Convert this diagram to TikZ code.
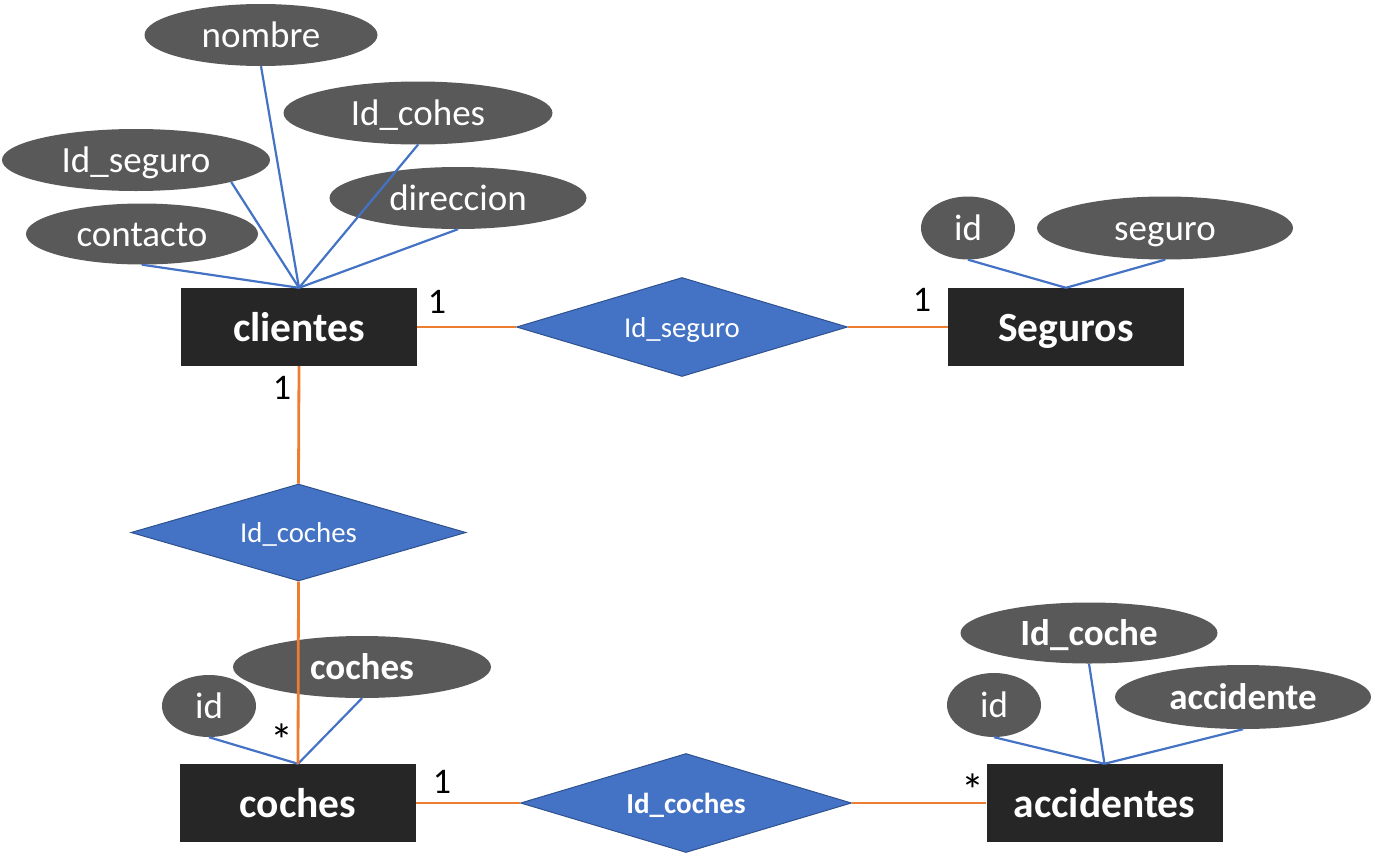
\documentclass[tikz,border=0pt]{standalone}
\usepackage{fontspec}
\setmainfont{Carlito}
\usetikzlibrary{shapes.geometric}
\definecolor{entfill}{HTML}{262626}
\definecolor{attfill}{HTML}{595959}
\definecolor{relfill}{HTML}{4472C4}
\definecolor{reldraw}{HTML}{2F528F}
\definecolor{attline}{HTML}{4472C4}
\definecolor{relline}{HTML}{ED7D31}
\tikzset{
  entity/.style={rectangle, fill=entfill, text=white, font=\fontsize{41.5}{48}\selectfont\bfseries,
    minimum width=236pt, minimum height=78pt, inner sep=0pt, text height=36pt, text depth=8pt},
  attr/.style={ellipse, fill=attfill, text=white, font=\fontsize{37}{42}\selectfont,
    inner sep=0pt, text height=30pt, text depth=6pt},
  battr/.style={attr, font=\fontsize{37}{42}\selectfont\bfseries},
  rel/.style={diamond, aspect=3.3, fill=relfill, draw=reldraw, line width=1pt, text=white,
    font=\fontsize{28.8}{33}\selectfont, inner sep=0pt, text height=26pt, text depth=6pt},
  brel/.style={rel, font=\fontsize{29}{33}\selectfont\bfseries},
  aline/.style={draw=attline, line width=2.2pt},
  rline/.style={draw=relline, line width=2.8pt},
  card/.style={text=black, font=\fontsize{36}{40}\selectfont, inner sep=0pt},
  star/.style={card, font=\fontsize{46}{50}\selectfont},
}
\begin{document}
\begin{tikzpicture}[x=1pt,y=-1pt]
\useasboundingbox (0,0) rectangle (1374,854);
% entities
\node[entity] (clientes) at (299,327) {clientes};
\node[entity] (seguros) at (1066,327) {Seguros};
\node[entity] (coches) at (298,803) {coches};
\node[entity] (accid) at (1104.5,803) {accidentes};
% relationships
\node[rel, minimum width=331pt, minimum height=99pt] (rseg) at (682,327) {Id\_seguro};
\node[rel, minimum width=335pt, minimum height=97pt] (rcoc) at (298.5,532.5) {Id\_coches};
\node[brel, minimum width=331pt, minimum height=99pt] (racc) at (686,803) {Id\_coches};
% attributes
\node[attr, minimum width=233pt, minimum height=62pt] (nombre) at (261,35) {nombre};
\node[attr, minimum width=269pt, minimum height=63pt] (idcohes) at (418,113) {Id\_cohes};
\node[attr, minimum width=268pt, minimum height=62pt] (idseg) at (136,160) {Id\_seguro};
\node[attr, minimum width=257pt, minimum height=62pt] (direc) at (458,198) {direccion};
\node[attr, minimum width=232pt, minimum height=61pt] (contacto) at (142,234) {contacto};
\node[attr, minimum width=94pt, minimum height=63pt] (sid) at (968,228) {id};
\node[attr, minimum width=256pt, minimum height=63pt] (seguro) at (1165,228) {seguro};
\node[battr, minimum width=258pt, minimum height=62pt] (cattr) at (362,667) {coches};
\node[attr, minimum width=94pt, minimum height=62pt] (cid) at (209,706) {id};
\node[battr, minimum width=257pt, minimum height=61pt] (idcoche) at (1089,633) {Id\_coche};
\node[attr, minimum width=94pt, minimum height=64pt] (aid) at (994,705) {id};
\node[battr, minimum width=256pt, minimum height=64pt] (accattr) at (1243,697) {accidente};
% attribute connectors
\path[aline] (nombre.south) -- (clientes.north);
\path[aline] (idcohes.south) -- (clientes.north);
\path[aline] (idseg.-13) -- (clientes.north);
\path[aline] (direc.south) -- (clientes.north);
\path[aline] (contacto.south) -- (clientes.north);
\path[aline] (sid.south) -- (seguros.north);
\path[aline] (seguro.south) -- (seguros.north);
\path[aline] (cid.south) -- (coches.north);
\path[aline] (cattr.south) -- (coches.north);
\path[aline] (aid.south) -- (accid.north);
\path[aline] (idcoche.south) -- (accid.north);
\path[aline] (accattr.south) -- (accid.north);
% relationship connectors
\path[rline] (clientes.east) -- (rseg.west);
\path[rline] (rseg.east) -- (seguros.west);
\path[rline] (clientes.south) -- (rcoc.north);
\path[rline] (rcoc.south) -- (coches.north);
\path[rline] (coches.east) -- (racc.west);
\path[rline] (racc.east) -- (accid.west);
% cardinalities
\node[card] (c1) at (437,302) {1};
\node[card] (c2) at (922,300) {1};
\node[card] (c3) at (282,388) {1};
\node[star] (c4) at (282,740) {*};
\node[card] (c5) at (442,782) {1};
\node[star] (c6) at (973,790) {*};
\end{tikzpicture}
\end{document}
